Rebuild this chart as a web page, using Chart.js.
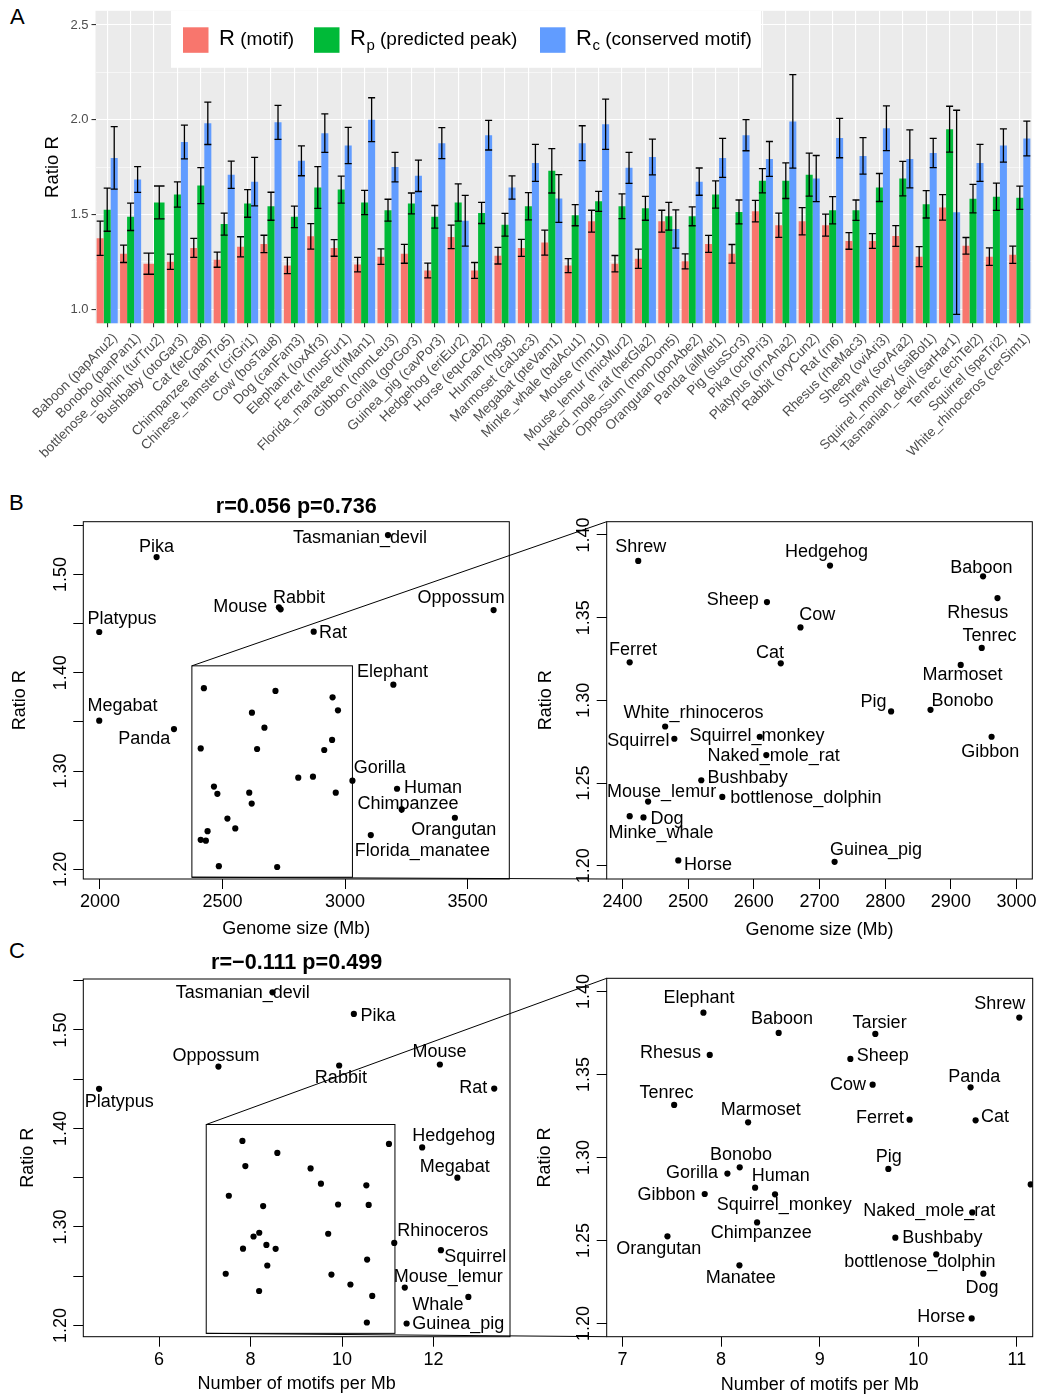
<!DOCTYPE html>
<html>
<head>
<meta charset="utf-8">
<script src="https://cdn.jsdelivr.net/npm/chart.js@4.4.0/dist/chart.umd.min.js"></script>
<style>
  body { margin: 0; background: #fff; width: 1039px; height: 1397px; position: relative; overflow: hidden;
         font-family: "Liberation Sans", Arial, sans-serif; }
  .pane { position: absolute; }
  .tag { position: absolute; font-size: 22px; line-height: 22px; color: #000; }
  #links { position: absolute; left: 0; top: 0; pointer-events: none; z-index: 5; }
</style>
</head>
<body>
<div class="tag" style="left:10px;top:6px">A</div>
<div class="tag" style="left:9px;top:492px">B</div>
<div class="tag" style="left:9px;top:940px">C</div>

<div class="pane" style="left:0;top:0;width:1039px;height:480px"><canvas id="barA"></canvas></div>
<div class="pane" style="left:0;top:490px;width:520px;height:460px"><canvas id="bLeft"></canvas></div>
<div class="pane" style="left:520px;top:490px;width:519px;height:460px"><canvas id="bRight"></canvas></div>
<div class="pane" style="left:0;top:950px;width:520px;height:447px"><canvas id="cLeft"></canvas></div>
<div class="pane" style="left:520px;top:950px;width:519px;height:447px"><canvas id="cRight"></canvas></div>
<canvas id="links" width="1039" height="1397"></canvas>

<script>
// ---- A: ratio per genome, three estimates with error bars
const species = ['Baboon (papAnu2)','Bonobo (panPan1)','bottlenose_dolphin (turTru2)','Bushbaby (otoGar3)','Cat (felCat8)',
  'Chimpanzee (panTro5)','Chinese_hamster (criGri1)','Cow (bosTau8)','Dog (canFam3)','Elephant (loxAfr3)','Ferret (musFur1)',
  'Florida_manatee (triMan1)','Gibbon (nomLeu3)','Gorilla (gorGor3)','Guinea_pig (cavPor3)','Hedgehog (eriEur2)','Horse (equCab2)',
  'Human (hg38)','Marmoset (calJac3)','Megabat (pteVam1)','Minke_whale (balAcu1)','Mouse (mm10)','Mouse_lemur (micMur2)',
  'Naked_mole_rat (hetGla2)','Oppossum (monDom5)','Orangutan (ponAbe2)','Panda (ailMel1)','Pig (susScr3)','Pika (ochPri3)',
  'Platypus (ornAna2)','Rabbit (oryCun2)','Rat (rn6)','Rhesus (rheMac3)','Sheep (oviAri3)','Shrew (sorAra2)',
  'Squirrel_monkey (saiBol1)','Tasmanian_devil (sarHar1)','Tenrec (echTel2)','Squirrel (speTri2)','White_rhinoceros (cerSim1)'];

const rMotif    = [1.374,1.292,1.240,1.250,1.323,1.261,1.329,1.344,1.230,1.384,1.323,1.235,1.277,1.292,1.204,1.381,1.204,1.282,1.323,1.351,
                   1.230,1.464,1.240,1.266,1.464,1.252,1.344,1.292,1.517,1.443,1.464,1.443,1.360,1.360,1.386,1.277,1.537,1.334,1.277,1.287];
const rMotifErr = [0.090,0.046,0.056,0.040,0.050,0.040,0.053,0.046,0.043,0.067,0.044,0.038,0.041,0.050,0.039,0.062,0.042,0.044,0.045,0.066,
                   0.037,0.058,0.043,0.051,0.058,0.040,0.045,0.049,0.057,0.064,0.072,0.058,0.044,0.039,0.055,0.053,0.067,0.044,0.046,0.046];
const rPeak     = [1.525,1.487,1.563,1.605,1.652,1.449,1.558,1.543,1.487,1.642,1.631,1.563,1.522,1.558,1.487,1.563,1.508,1.445,1.543,1.730,
                   1.496,1.569,1.543,1.532,1.490,1.490,1.605,1.513,1.678,1.678,1.710,1.522,1.522,1.642,1.689,1.553,1.950,1.583,1.593,1.588];
const rPeakErr  = [0.114,0.072,0.087,0.067,0.095,0.058,0.073,0.074,0.057,0.110,0.071,0.064,0.058,0.055,0.060,0.098,0.056,0.060,0.072,0.117,
                   0.056,0.053,0.065,0.063,0.073,0.050,0.072,0.063,0.064,0.094,0.113,0.072,0.054,0.074,0.091,0.072,0.121,0.075,0.072,0.061];
const rCons     = [1.798,1.684,null,1.882,1.981,1.709,1.673,1.986,1.783,1.929,1.864,2.000,1.750,1.704,1.876,1.466,1.918,1.642,1.772,1.584,
                   1.876,1.976,1.746,1.803,1.423,1.673,1.798,1.918,1.793,1.991,1.689,1.903,1.809,1.955,1.793,1.824,1.511,1.772,1.864,1.901];
const rConsErr  = [0.165,0.068,null,0.089,0.112,0.072,0.128,0.090,0.079,0.102,0.096,0.116,0.078,0.083,0.082,0.134,0.078,0.061,0.098,0.126,
                   0.092,0.133,0.082,0.094,0.101,0.072,0.103,0.082,0.092,0.247,0.122,0.104,0.096,0.118,0.153,0.077,0.539,0.098,0.088,0.092];
const ratioRange = [0.925, 2.575];

// ---- B: ratio vs genome size
const bNames  = ['Tasmanian_devil','Pika','Mouse','Rabbit','Oppossum','Platypus','Rat','Elephant','Megabat','Panda','Gorilla','Human',
  'Chimpanzee','Orangutan','Florida_manatee','Shrew','Hedgehog','Baboon','Rhesus','Sheep','Cow','Tenrec','Ferret','Cat','Marmoset',
  'Pig','Bonobo','White_rhinoceros','Squirrel','Squirrel_monkey','Gibbon','Naked_mole_rat','Bushbaby','bottlenose_dolphin',
  'Mouse_lemur','Minke_whale','Dog','Horse','Guinea_pig'];
const bGenome = [3175,2231,2730,2737,3606,1997,2872,3197,1997,2302,3030,3212,3231,3448,3105,2424,2716,2949,2971,2620,2671,2947,2411,
  2641,2915,2809,2869,2465,2479,2609,2962,2619,2520,2552,2439,2411,2432,2485,2723];
const bRatio  = [1.540,1.5176,1.4665,1.4645,1.4637,1.4414,1.4417,1.3878,1.3512,1.3427,1.2902,1.282,1.261,1.2525,1.2349,1.3843,1.3815,
  1.375,1.3618,1.3594,1.3441,1.3317,1.323,1.3224,1.3214,1.2933,1.2943,1.2842,1.2768,1.278,1.278,1.2669,1.2517,1.2416,1.2388,1.230,
  1.2292,1.2032,1.2024];

// ---- C: ratio vs motif density
const cNames  = ['Tasmanian_devil','Pika','Oppossum','Rabbit','Mouse','Platypus','Rat','Hedgehog','Megabat','Rhinoceros','Squirrel',
  'Mouse_lemur','Whale','Guinea_pig','Elephant','Baboon','Tarsier','Shrew','Rhesus','Sheep','Cow','Panda','Tenrec','Marmoset','Ferret',
  'Cat','Bonobo','Gorilla','Pig','Human','Squirrel_monkey','Gibbon','Naked_mole_rat','Chimpanzee','Orangutan','Bushbaby',
  'bottlenose_dolphin','Manatee','Dog','Horse'];
const cMotifs = [8.478,10.257,7.297,9.936,12.137,4.688,13.325,11.75,12.52,11.14,12.16,11.37,12.76,11.41,7.821,8.584,9.564,11.024,
  7.885,9.311,9.537,10.53,7.524,8.274,9.912,10.581,8.189,8.064,9.696,8.345,8.547,7.834,10.547,8.365,7.456,9.767,10.182,8.186,10.659,10.541];
const cRatio  = [1.5382,1.5162,1.4628,1.4639,1.4649,1.4402,1.4405,1.3807,1.350,1.2838,1.2764,1.2385,1.229,1.202,1.3873,1.3751,1.3745,
  1.3843,1.3618,1.3594,1.3439,1.3423,1.3317,1.3212,1.3228,1.3224,1.2941,1.2903,1.2931,1.2818,1.2778,1.278,1.2669,1.2609,1.2525,1.2517,
  1.2416,1.235,1.230,1.203];
const cLeftSkip = ['Tarsier'];   // only appears in the zoomed plot

// axis ranges, x tick values and zoom rectangles of the four scatter plots
const bLeftX = [1932, 3670], bLeftY = [1.1902, 1.5536], bLeftTicks = [2000, 2500, 3000, 3500];
const bZoomX = [2376, 3024], bZoomY = [1.192, 1.408], bZoomTicks = [2400, 2500, 2600, 2700, 2800, 2900, 3000];
const bBoxX = [2375, 3030], bBoxY = [1.192, 1.407];
const cLeftX = [4.343, 13.67], cLeftY = [1.1886, 1.5517], cLeftTicks = [6, 8, 10, 12];
const cZoomX = [6.84, 11.16], cZoomY = [1.192, 1.408], cZoomTicks = [7, 8, 9, 10, 11];
const cBoxX = [7.03, 11.155], cBoxY = [1.192, 1.404];

// label placement (px from the point: left edge, baseline)
const bLeftLabels = { Tasmanian_devil:[-95,8.3], Pika:[-17.7,-5], Mouse:[-65.7,4.3], Rabbit:[-7.7,-6], Oppossum:[-76,-7.3],
  Platypus:[-11.7,-8], Rat:[5.3,6.7], Elephant:[-36.3,-8], Megabat:[-11.7,-10], Panda:[-55.7,15], Gorilla:[1.3,-7.3], Human:[7,4],
  Chimpanzee:[-44.3,0], Orangutan:[-43.7,17.7], Florida_manatee:[-16,21] };
const bRightLabels = { Shrew:[-23,-8.7], Hedgehog:[-45,-9], Baboon:[-32.7,-3], Rhesus:[-50.3,20], Sheep:[-60.3,2.7], Cow:[-1.3,-7.7],
  Tenrec:[-19.3,-7], Ferret:[-20.7,-7.3], Cat:[-24.7,-5.3], Marmoset:[-38.3,14.7], Pig:[-30.7,-4], Bonobo:[1,-3.7],
  White_rhinoceros:[-41.7,-8.7], Squirrel:[-67,7.3], Squirrel_monkey:[-70.3,4], Gibbon:[-30.3,20], Naked_mole_rat:[-58.7,5.7],
  Bushbaby:[6.3,2.3], bottlenose_dolphin:[8,5.7], Mouse_lemur:[-41,-4.3], Minke_whale:[-21.3,22], Dog:[7,6.7], Horse:[5.7,9.7],
  Guinea_pig:[-4.7,-6.7] };
const cLeftLabels = { Tasmanian_devil:[-96.7,6], Pika:[6.7,6.7], Oppossum:[-46,-6], Rabbit:[-24.3,17.7], Mouse:[-27.3,-7.3],
  Platypus:[-14.3,17.7], Rat:[-35,4.7], Hedgehog:[-10,-6.7], Megabat:[-37.7,-6], Rhinoceros:[3,-7.3], Squirrel:[3.3,11.7],
  Mouse_lemur:[-11,-5.7], Whale:[-56,12.7], Guinea_pig:[5.7,5.3] };
const cRightLabels = { Elephant:[-40,-9.3], Baboon:[-27.7,-9], Tarsier:[-22.7,-5.7], Shrew:[-45,-8.7], Rhesus:[-69.7,3],
  Sheep:[6.3,1.7], Cow:[-42.7,5.3], Panda:[-22.3,-5.7], Tenrec:[-34.7,-6.7], Marmoset:[-27.3,-7.3], Ferret:[-53.7,3.7], Cat:[5.3,1.7],
  Bonobo:[-29.7,-7.3], Gorilla:[-61.3,4.7], Pig:[-12.7,-7.3], Human:[-3.3,-7], Gibbon:[-67.3,6], Squirrel_monkey:[-58.3,15.7],
  Naked_mole_rat:[-109,3.3], Chimpanzee:[-46.3,15.7], Orangutan:[-51.3,17.7], Bushbaby:[7,5.7], bottlenose_dolphin:[-92,12.3],
  Manatee:[-33.7,17.7], Dog:[-17.7,19.3], Horse:[-54.3,4] };

const FONT = '"Liberation Sans", Arial, sans-serif';
Chart.defaults.font.family = FONT;
const RED = '#F8766D', GREEN = '#00BA38', BLUE = '#619CFF';

// ---------- panel A ----------
const isMajor = v => Math.abs(v * 2 - Math.round(v * 2)) < 1e-6;

const panelBg = {
  id: 'panelBg',
  beforeDraw(chart) {
    const { ctx, chartArea: a } = chart;
    ctx.save();
    ctx.fillStyle = '#EBEBEB';
    ctx.fillRect(a.left, a.top, a.width, a.height);
    ctx.restore();
  }
};

const errorBars = {
  id: 'errorBars',
  afterDatasetsDraw(chart) {
    const { ctx } = chart, y = chart.scales.y;
    ctx.save();
    ctx.strokeStyle = '#000';
    ctx.lineWidth = 1.3;
    chart.data.datasets.forEach((ds, i) => {
      chart.getDatasetMeta(i).data.forEach((bar, j) => {
        const v = ds.data[j], e = ds.errors[j];
        if (v == null) return;
        const top = y.getPixelForValue(v + e), bot = y.getPixelForValue(v - e), h = bar.width / 2;
        ctx.beginPath();
        ctx.moveTo(bar.x, top); ctx.lineTo(bar.x, bot);
        ctx.moveTo(bar.x - h, top); ctx.lineTo(bar.x + h, top);
        ctx.moveTo(bar.x - h, bot); ctx.lineTo(bar.x + h, bot);
        ctx.stroke();
      });
    });
    ctx.restore();
  }
};

// legend with subscripts, drawn inside the panel like ggplot's
const legendA = {
  id: 'legendA',
  afterDraw(chart) {
    const { ctx, chartArea: a } = chart;
    const x0 = a.left;
    ctx.save();
    ctx.fillStyle = '#fff';
    ctx.fillRect(x0 + 75.5, a.top, 590, 57);
    const items = [
      [RED, 87.5, 'R', '', ' (motif)'],
      [GREEN, 218.5, 'R', 'p', ' (predicted peak)'],
      [BLUE, 444.5, 'R', 'c', ' (conserved motif)']
    ];
    ctx.textBaseline = 'alphabetic';
    items.forEach(([col, kx, big, sub, rest]) => {
      ctx.fillStyle = col;
      ctx.fillRect(x0 + kx, a.top + 16.5, 25.5, 25.5);
      ctx.fillStyle = '#000';
      let tx = x0 + kx + 36;
      const base = a.top + 34.5;
      ctx.font = '22px ' + FONT;
      ctx.fillText(big, tx, base);
      tx += ctx.measureText(big).width;
      if (sub) {
        ctx.font = '15px ' + FONT;
        ctx.fillText(sub, tx + 0.5, base + 5);
        tx += ctx.measureText(sub).width + 0.5;
      }
      ctx.font = '19px ' + FONT;
      ctx.fillText(rest, tx, base);
    });
    ctx.restore();
  }
};

new Chart(document.getElementById('barA'), {
  type: 'bar',
  data: {
    labels: species,
    datasets: [
      { label: 'R (motif)', data: rMotif, errors: rMotifErr, backgroundColor: RED },
      { label: 'Rp (predicted peak)', data: rPeak, errors: rPeakErr, backgroundColor: GREEN },
      { label: 'Rc (conserved motif)', data: rCons, errors: rConsErr, backgroundColor: BLUE }
    ]
  },
  options: {
    animation: false, responsive: true, maintainAspectRatio: false, devicePixelRatio: 1, events: [],
    layout: { padding: { left: 40, top: 7.5, right: 7.5, bottom: 0 } },
    datasets: { bar: { categoryPercentage: 0.9, barPercentage: 1, skipNull: true, borderWidth: 0 } },
    plugins: { legend: { display: false }, tooltip: { enabled: false } },
    scales: {
      x: {
        afterFit: s => { s.height = 156.7; },
        grid: { offset: false, color: '#fff', lineWidth: 1.1, tickColor: '#333', tickLength: 4 },
        border: { display: false },
        ticks: { autoSkip: false, minRotation: 45, maxRotation: 45, color: '#4D4D4D', font: { size: 13.5 },
                 padding: 3, labelOffset: 8 }
      },
      y: {
        min: ratioRange[0], max: ratioRange[1],
        afterFit: s => { s.width = 55.5; },
        border: { display: false },
        grid: {
          color: '#fff',
          lineWidth: c => (c.tick && isMajor(c.tick.value)) ? 1.1 : 0.55,
          tickColor: c => (c.tick && isMajor(c.tick.value)) ? '#333' : 'rgba(0,0,0,0)',
          tickLength: 4
        },
        ticks: { stepSize: 0.25, includeBounds: false, autoSkip: false, color: '#4D4D4D', font: { size: 13 }, padding: 3,
                 callback: v => isMajor(v) ? v.toFixed(1) : '' },
        title: { display: true, text: 'Ratio R', color: '#000', font: { size: 18.5 }, padding: { top: 2, bottom: 0 } }
      }
    }
  },
  plugins: [panelBg, errorBars, legendA]
});

// ---------- panels B and C (base-R style scatter plots) ----------
const rDeco = {
  id: 'rDeco',
  afterDatasetsDraw(chart, args, o) {
    const { ctx, chartArea: a, scales: { x, y } } = chart;
    ctx.save();
    ctx.strokeStyle = '#000';
    ctx.lineWidth = 1;
    ctx.strokeRect(a.left, a.top, a.width, a.height);
    if (o.box) {
      const x0 = x.getPixelForValue(o.box.x[0]), x1 = x.getPixelForValue(o.box.x[1]);
      const y0 = y.getPixelForValue(o.box.y[0]), y1 = y.getPixelForValue(o.box.y[1]);
      ctx.strokeRect(x0, y1, x1 - x0, y0 - y1);
    }
    ctx.fillStyle = '#000';
    ctx.font = '18px ' + FONT;
    ctx.textAlign = 'left';
    ctx.textBaseline = 'alphabetic';
    const pts = chart.data.datasets[0].data;
    chart.getDatasetMeta(0).data.forEach((el, i) => {
      const off = o.labels[pts[i].name];
      if (off) ctx.fillText(pts[i].name, el.x + off[0], el.y + off[1]);
    });
    if (o.title) {
      ctx.font = 'bold 21.6px ' + FONT;
      ctx.textAlign = 'center';
      ctx.fillText(o.title, (a.left + a.right) / 2, a.top - o.titleGap);
    }
    ctx.restore();
  }
};

function rScatter(id, c) {
  const pts = c.names.map((n, i) => ({ x: c.xs[i], y: c.ys[i], name: n }))
                     .filter(p => !(c.skip || []).includes(p.name));
  const yLab = c.everyOther ? (v => Math.abs(v * 10 - Math.round(v * 10)) < 1e-6 ? v.toFixed(2) : '') : (v => v.toFixed(2));
  return new Chart(document.getElementById(id), {
    type: 'scatter',
    data: { datasets: [{ data: pts, pointRadius: 3.1, pointBackgroundColor: '#000', pointBorderWidth: 0, clip: 0 }] },
    options: {
      animation: false, responsive: true, maintainAspectRatio: false, devicePixelRatio: 1, events: [],
      layout: { padding: c.pad },
      plugins: {
        legend: { display: false }, tooltip: { enabled: false },
        rDeco: { labels: c.labels, box: c.box, title: c.title, titleGap: c.titleGap || 9 }
      },
      scales: {
        x: {
          type: 'linear', min: c.xr[0], max: c.xr[1],
          afterBuildTicks: s => { s.ticks = c.xTicks.map(v => ({ value: v })); },
          afterFit: s => { s.height = c.xh; },
          border: { display: false },
          grid: { drawOnChartArea: false, tickLength: 10, tickColor: '#000', tickWidth: 1 },
          ticks: { autoSkip: false, maxRotation: 0, color: '#000', font: { size: 18 }, padding: 2.2, callback: v => String(v) },
          title: { display: true, text: c.xTitle, color: '#000', font: { size: 18 }, padding: { top: 0, bottom: c.xTitlePad } }
        },
        y: {
          type: 'linear', min: c.yr[0], max: c.yr[1],
          afterFit: s => { s.width = c.yw; },
          border: { display: false },
          grid: { drawOnChartArea: false, tickLength: 10, tickColor: '#000', tickWidth: 1 },
          ticks: { stepSize: 0.05, includeBounds: false, autoSkip: false, minRotation: 90, maxRotation: 90,
                   crossAlign: 'center', color: '#000', font: { size: 18 }, padding: -5, callback: yLab },
          title: { display: true, text: 'Ratio R', color: '#000', font: { size: 18 }, padding: { top: c.yTitlePad, bottom: 0 } }
        }
      }
    },
    plugins: [rDeco]
  });
}

const bL = rScatter('bLeft', {
  names: bNames, xs: bGenome, ys: bRatio, xr: bLeftX, yr: bLeftY, xTicks: bLeftTicks, everyOther: true,
  pad: { left: 0, top: 31.7, right: 10.7, bottom: 0 }, yw: 83.3, xh: 71, yTitlePad: 9.2, xTitlePad: 10.2,
  xTitle: 'Genome size (Mb)', labels: bLeftLabels, box: { x: bBoxX, y: bBoxY }, title: 'r=0.056 p=0.736', titleGap: 8.5
});
const bR = rScatter('bRight', {
  names: bNames, xs: bGenome, ys: bRatio, xr: bZoomX, yr: bZoomY, xTicks: bZoomTicks, everyOther: false,
  pad: { left: 0, top: 31.7, right: 6.3, bottom: 0 }, yw: 86.7, xh: 71, yTitlePad: 15.2, xTitlePad: 9,
  xTitle: 'Genome size (Mb)', labels: bRightLabels
});
const cL = rScatter('cLeft', {
  names: cNames, xs: cMotifs, ys: cRatio, skip: cLeftSkip, xr: cLeftX, yr: cLeftY, xTicks: cLeftTicks, everyOther: true,
  pad: { left: 0, top: 29, right: 10, bottom: 0 }, yw: 83.3, xh: 60.3, yTitlePad: 17.2, xTitlePad: 2.2,
  xTitle: 'Number of motifs per Mb', labels: cLeftLabels, box: { x: cBoxX, y: cBoxY }, title: 'r=\u22120.111 p=0.499', titleGap: 9.7
});
const cR = rScatter('cRight', {
  names: cNames, xs: cMotifs, ys: cRatio, xr: cZoomX, yr: cZoomY, xTicks: cZoomTicks, everyOther: false,
  pad: { left: 0, top: 28.3, right: 6.3, bottom: 0 }, yw: 86.7, xh: 60.3, yTitlePad: 14.2, xTitlePad: 1.5,
  xTitle: 'Number of motifs per Mb', labels: cRightLabels
});

// lines joining each zoom rectangle to the zoomed plot
function connect(left, right, box) {
  const ctx = document.getElementById('links').getContext('2d');
  const lr = left.canvas.getBoundingClientRect(), rr = right.canvas.getBoundingClientRect();
  const bx = lr.left + left.scales.x.getPixelForValue(box.x[0]);
  const yTop = lr.top + left.scales.y.getPixelForValue(box.y[1]);
  const yBot = lr.top + left.scales.y.getPixelForValue(box.y[0]);
  const a = right.chartArea;
  ctx.save();
  ctx.strokeStyle = '#000';
  ctx.lineWidth = 1;
  ctx.beginPath();
  ctx.moveTo(bx, yTop); ctx.lineTo(rr.left + a.left, rr.top + a.top);
  ctx.moveTo(bx, yBot); ctx.lineTo(rr.left + a.left, rr.top + a.bottom);
  ctx.stroke();
  ctx.restore();
}
connect(bL, bR, { x: bBoxX, y: bBoxY });
connect(cL, cR, { x: cBoxX, y: cBoxY });
</script>
</body>
</html>
